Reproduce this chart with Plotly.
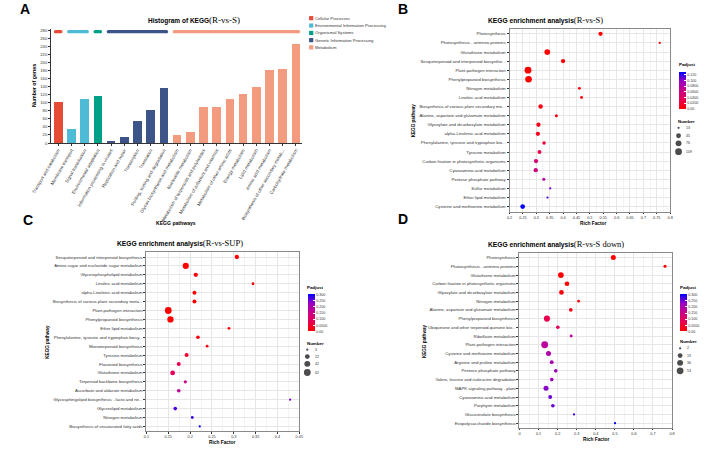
import numpy as np
import plotly.graph_objects as go

W, H = 708, 450
FONT = "Liberation Sans, Arial, sans-serif"
SERIF = "Liberation Serif, Times New Roman, serif"

# ---------------- Panel A data ----------------
a_pathways = ["Transport and catabolism", "Membrane transport", "Signal transduction",
              "Environmental adaptation", "Information processing in viruses",
              "Replication and repair", "Transcription", "Translation",
              "Folding, sorting and degradation", "Glycan biosynthesis and metabolism",
              "Nucleotide metabolism", "Metabolism of terpenoids and polyketides",
              "Metabolism of cofactors and vitamins", "Metabolism of other amino acids",
              "Energy metabolism", "Lipid metabolism", "Amino acid metabolism",
              "Biosynthesis of other secondary metab...", "Carbohydrate metabolism"]
a_genes = [102, 35, 110, 116, 6, 16, 55, 83, 137, 20, 27, 90, 91, 110, 121, 140, 182, 185, 246]
a_class = (["Cellular Processes"] + ["Environmental Information Processing"] * 2 +
           ["Organismal Systems"] + ["Genetic Information Processing"] * 5 + ["Metabolism"] * 10)
a_class_order = ["Cellular Processes", "Environmental Information Processing",
                 "Organismal Systems", "Genetic Information Processing", "Metabolism"]
a_class_colors = ["#E64B35", "#4DBBD5", "#00A087", "#3C5488", "#F39B7F"]
a_yticks = list(range(0, 281, 20))

# ---------------- Panel B data (R-vs-S) ----------------
b_path = ["Photosynthesis", "Photosynthesis - antenna proteins", "Glutathione metabolism",
          "Sesquiterpenoid and triterpenoid biosynthe...", "Plant-pathogen interaction",
          "Phenylpropanoid biosynthesis", "Nitrogen metabolism", "Linoleic acid metabolism",
          "Biosynthesis of various plant secondary me...",
          "Alanine, aspartate and glutamate metabolism",
          "Glyoxylate and dicarboxylate metabolism", "alpha-Linolenic acid metabolism",
          "Phenylalanine, tyrosine and tryptophan bio...", "Tyrosine metabolism",
          "Carbon fixation in photosynthetic organisms", "Cyanoamino acid metabolism",
          "Pentose phosphate pathway", "Sulfur metabolism", "Ether lipid metabolism",
          "Cysteine and methionine metabolism"]
b_rich = [0.540, 0.761, 0.341, 0.400, 0.269, 0.271, 0.461, 0.469, 0.316, 0.375,
          0.308, 0.306, 0.329, 0.312, 0.299, 0.298, 0.328, 0.352, 0.342, 0.249]
b_num = [33, 13, 70, 33, 109, 100, 15, 15, 35, 16, 33, 33, 20, 27, 33, 33, 16, 13, 13, 42]
b_padj = [0.001, 0.002, 0.0005, 0.003, 0.0001, 0.0002, 0.004, 0.004, 0.006, 0.008,
          0.010, 0.013, 0.023, 0.032, 0.052, 0.058, 0.078, 0.104, 0.114, 0.130]
b_xticks = [0.2, 0.25, 0.3, 0.35, 0.4, 0.45, 0.5, 0.55, 0.6, 0.65, 0.7, 0.75, 0.8]
b_cb_vals = [0, 0.02, 0.04, 0.06, 0.08, 0.10, 0.12]
b_cb_text = ["0.00", "0.0200", "0.0400", "0.0600", "0.0800", "0.100", "0.120"]
b_num_breaks = [13, 45, 76, 109]

# ---------------- Panel C data (R-vs-SUP) ----------------
c_path = ["Sesquiterpenoid and triterpenoid biosynthesis",
          "Amino sugar and nucleotide sugar metabolism", "Glycerophospholipid metabolism",
          "Linoleic acid metabolism", "alpha-Linolenic acid metabolism",
          "Biosynthesis of various plant secondary meta...", "Plant-pathogen interaction",
          "Phenylpropanoid biosynthesis", "Ether lipid metabolism",
          "Phenylalanine, tyrosine and tryptophan biosy...", "Monoterpenoid biosynthesis",
          "Tyrosine metabolism", "Flavonoid biosynthesis", "Glutathione metabolism",
          "Terpenoid backbone biosynthesis", "Ascorbate and aldarate metabolism",
          "Glycosphingolipid biosynthesis - lacto and ne...", "Glycerolipid metabolism",
          "Nitrogen metabolism", "Biosynthesis of unsaturated fatty acids"]
c_rich = [0.307, 0.190, 0.213, 0.344, 0.210, 0.210, 0.150, 0.155, 0.289, 0.218,
          0.239, 0.192, 0.174, 0.160, 0.189, 0.174, 0.429, 0.166, 0.205, 0.222]
c_num = [15, 46, 15, 4, 12, 12, 62, 50, 4, 9, 4, 12, 12, 21, 6, 9, 3, 9, 4, 3]
c_padj = [0.001, 0.0001, 0.003, 0.005, 0.004, 0.004, 0.0001, 0.0002, 0.008, 0.010,
          0.015, 0.045, 0.075, 0.090, 0.150, 0.175, 0.240, 0.265, 0.275, 0.302]
c_xticks = [0.1, 0.15, 0.2, 0.25, 0.3, 0.35, 0.4, 0.45]
cd_cb_vals = [0, 0.05, 0.10, 0.15, 0.20, 0.25, 0.30]
cd_cb_text = ["0.00", "0.0500", "0.100", "0.150", "0.200", "0.250", "0.300"]
c_num_breaks = [3, 22, 42, 62]

# ---------------- Panel D data (R-vs-S down) ----------------
d_path = ["Photosynthesis", "Photosynthesis - antenna proteins", "Glutathione metabolism",
          "Carbon fixation in photosynthetic organisms",
          "Glyoxylate and dicarboxylate metabolism", "Nitrogen metabolism",
          "Alanine, aspartate and glutamate metabolism", "Phenylpropanoid biosynthesis",
          "Ubiquinone and other terpenoid-quinone bio...", "Riboflavin metabolism",
          "Plant-pathogen interaction", "Cysteine and methionine metabolism",
          "Arginine and proline metabolism", "Pentose phosphate pathway",
          "Valine, leucine and isoleucine degradation", "MAPK signaling pathway - plant",
          "Cyanoamino acid metabolism", "Porphyrin metabolism",
          "Glucosinolate biosynthesis", "Exopolysaccharide biosynthesis"]
d_rich = [0.492, 0.763, 0.217, 0.249, 0.220, 0.310, 0.269, 0.144, 0.201, 0.271,
          0.132, 0.152, 0.169, 0.190, 0.169, 0.139, 0.161, 0.175, 0.286, 0.501]
d_num = [21, 4, 33, 17, 17, 3, 7, 40, 7, 3, 53, 21, 9, 7, 7, 21, 9, 7, 2, 2]
d_padj = [0.0001, 0.001, 0.002, 0.004, 0.006, 0.010, 0.015, 0.075, 0.090, 0.165,
          0.175, 0.195, 0.205, 0.217, 0.217, 0.235, 0.247, 0.253, 0.270, 0.302]
d_xticks = [0, 0.1, 0.2, 0.3, 0.4, 0.5, 0.6, 0.7, 0.8]
d_num_breaks = [2, 19, 36, 53]

# ---------------- styling helpers ----------------
LAB_SCALE = [[0, "#FF0000"], [0.25, "#E80050"], [0.5, "#CA0089"],
             [0.75, "#9A00C3"], [1, "#0000FF"]]
R0, R1 = 2.2, 6.8


def size_px(n, nmin, nmax):
    n = np.asarray(n, dtype=float)
    return R0 + (R1 - R0) * np.sqrt(np.clip((n - nmin) / (nmax - nmin), 0, 1))


def fx(x):
    return x / W


def fy(y):
    return 1 - y / H


annotations = []


def add_text(text, x, y, size, color="#000000", xanchor="center", yanchor="middle",
             angle=0, family=FONT):
    annotations.append(dict(text=text, x=fx(x), y=fy(y), xref="paper", yref="paper",
                            xanchor=xanchor, yanchor=yanchor, showarrow=False,
                            textangle=angle, borderpad=0,
                            font=dict(size=size, color=color, family=family)))


fig = go.Figure()

# ---------------- Panel A ----------------
idx = np.arange(len(a_pathways))
for cls, col in zip(a_class_order, a_class_colors):
    sel = [i for i, c in enumerate(a_class) if c == cls]
    fig.add_trace(go.Bar(x=idx[sel], y=[a_genes[i] for i in sel], width=0.65,
                         marker=dict(color=col, line=dict(width=0)),
                         xaxis="x", yaxis="y", showlegend=False))
    fig.add_trace(go.Scatter(x=[min(sel) - 0.2, max(sel) + 0.2], y=[276, 276],
                             mode="lines+markers", line=dict(color=col, width=3.4),
                             marker=dict(color=col, size=3.4), cliponaxis=False,
                             xaxis="x", yaxis="y", showlegend=False))

layout_axes = {}
layout_axes["xaxis"] = dict(domain=[fx(33), fx(293)], range=[-0.55, 18.5], anchor="y",
                            tickmode="array", tickvals=list(idx), ticktext=a_pathways,
                            tickangle=-60, tickfont=dict(size=4.5, color="#333333"),
                            ticks="outside", ticklen=2, tickwidth=0.5, tickcolor="#333333",
                            showline=True, linecolor="#333333", linewidth=0.6,
                            showgrid=False, zeroline=False)
layout_axes["yaxis"] = dict(domain=[fy(143), fy(28)], range=[0, 283], anchor="x",
                            tickmode="array", tickvals=a_yticks,
                            tickfont=dict(size=4.2, color="#333333"),
                            ticks="outside", ticklen=2, tickwidth=0.5, tickcolor="#333333",
                            showline=True, linecolor="#333333", linewidth=0.6,
                            showgrid=False, zeroline=False)

add_text("<b>Histogram of KEGG</b><span style='font-family:Liberation Serif;font-size:9px'>(R-vs-S)</span>",
         181, 19, 6.5)
add_text("<b>Number of genes</b>", 15.7, 85.5, 5.3, angle=-90)
add_text("<b>KEGG pathways</b>", 162, 223, 5.1)

# ---------------- Panels B, C, D ----------------
panels = [
    dict(ax="2", path=b_path, rich=b_rich, num=b_num, padj=b_padj, xticks=b_xticks,
         xrange=[0.2, 0.8], minor=0.025, xdom=(507, 673), ydom=(28, 212),
         cmax=max(b_padj), cbv=b_cb_vals, cbt=b_cb_text, cb=(681.7, 71.7, 108.3, 6.7),
         breaks=b_num_breaks,
         title="<b>KEGG enrichment analysis</b><span style='font-family:Liberation Serif;font-size:8.5px'>(R-vs-S)</span>",
         tpos=(543.7, 18.7), ylab=(407.3, 120), xlab=(594, 223.5),
         padj_lab=(681.5, 64), num_lab=(680, 121.3), num_rows=[127.7, 135.7, 143.3, 151.7],
         num_mx=681.7, num_tx=688.5),
    dict(ax="3", path=c_path, rich=c_rich, num=c_num, padj=c_padj, xticks=c_xticks,
         xrange=[0.1, 0.45], minor=0.025, xdom=(131.7, 289.7), ydom=(252.8, 433.2),
         cmax=max(c_padj), cbv=cd_cb_vals, cbt=cd_cb_text, cb=(298.3, 295.7, 332.3, 7.3),
         breaks=c_num_breaks,
         title="<b>KEGG enrichment analysis</b><span style='font-family:Liberation Serif;font-size:8.5px'>(R-vs-SUP)</span>",
         tpos=(166.7, 244), ylab=(30, 343), xlab=(210, 444.5),
         padj_lab=(296.7, 288.3), num_lab=(296.7, 344.3), num_rows=[351, 358, 365.3, 374],
         num_mx=298, num_tx=305),
    dict(ax="4", path=d_path, rich=d_rich, num=d_num, padj=d_padj, xticks=d_xticks,
         xrange=[0, 0.8], minor=0.05, xdom=(517.3, 675), ydom=(253.5, 429.8),
         cmax=max(d_padj), cbv=cd_cb_vals, cbt=cd_cb_text, cb=(683.3, 295.7, 332.3, 7.3),
         breaks=d_num_breaks,
         title="<b>KEGG enrichment analysis</b><span style='font-family:Liberation Serif;font-size:8.5px'>(R-vs-S down)</span>",
         tpos=(555, 245), ylab=(419, 342), xlab=(597, 441.5),
         padj_lab=(681.7, 288.3), num_lab=(681.7, 343), num_rows=[349.7, 357, 364.3, 372.3],
         num_mx=683.3, num_tx=689.3),
]

legend_x, legend_y, legend_s, legend_c = [], [], [], []

for p in panels:
    a = p["ax"]
    nmin, nmax = min(p["num"]), max(p["num"])
    cbx, cbt, cbb, cbw = p["cb"]
    fig.add_trace(go.Scatter(
        x=p["rich"], y=p["path"], mode="markers", xaxis="x" + a, yaxis="y" + a,
        showlegend=False, cliponaxis=False,
        marker=dict(size=size_px(p["num"], nmin, nmax), color=p["padj"],
                    colorscale=LAB_SCALE, cmin=0, cmax=p["cmax"], opacity=1,
                    line=dict(width=0),
                    colorbar=dict(x=fx(cbx), xanchor="left", y=fy((cbt + cbb) / 2),
                                  yanchor="middle", len=cbb - cbt, lenmode="pixels",
                                  thickness=cbw, thicknessmode="pixels", xpad=0, ypad=0,
                                  outlinewidth=0, tickmode="array", tickvals=p["cbv"],
                                  ticktext=p["cbt"], ticks="inside", ticklen=2,
                                  tickcolor="white", tickwidth=0.5,
                                  tickfont=dict(size=3.6, color="#333333", family=FONT),
                                  title=dict(text=""))),
    ))
    minor_vals = list(np.round(np.arange(p["xrange"][0], p["xrange"][1] + 1e-9, p["minor"]), 4))
    layout_axes["xaxis" + a] = dict(
        domain=[fx(p["xdom"][0]), fx(p["xdom"][1])], range=p["xrange"], anchor="y" + a,
        tickmode="array", tickvals=p["xticks"], ticktext=[f"{v:g}" for v in p["xticks"]],
        tickfont=dict(size=3.8, color="#333333"), ticks="outside", ticklen=1.5,
        tickwidth=0.5, tickcolor="#333333", showline=True, mirror=True,
        linecolor="#8A8A8A", linewidth=1, showgrid=True, gridcolor="#E6E6E6",
        gridwidth=0.6, zeroline=False,
        minor=dict(tickmode="array", tickvals=minor_vals, showgrid=True,
                   gridcolor="#F3F3F3", gridwidth=0.4, ticks=""))
    layout_axes["yaxis" + a] = dict(
        domain=[fy(p["ydom"][1]), fy(p["ydom"][0])], type="category",
        categoryorder="array", categoryarray=p["path"],
        range=[len(p["path"]) - 0.45, -0.55], anchor="x" + a,
        tickfont=dict(size=4.3, color="#333333"), ticks="outside", ticklen=2,
        tickwidth=0.5, tickcolor="#333333", showline=True, mirror=True,
        linecolor="#8A8A8A", linewidth=1, showgrid=True, gridcolor="#E6E6E6",
        gridwidth=0.6, zeroline=False)

    add_text(p["title"], p["tpos"][0], p["tpos"][1], 6.7)
    add_text("<b>KEGG pathway</b>", p["ylab"][0], p["ylab"][1], 4.6, angle=-90)
    add_text("<b>Rich Factor</b>", p["xlab"][0], p["xlab"][1], 4.8)
    add_text("<b>Padjust</b>", p["padj_lab"][0], p["padj_lab"][1], 4.4, xanchor="left")
    add_text("<b>Number</b>", p["num_lab"][0], p["num_lab"][1], 4.4, xanchor="left")
    sizes = size_px(p["breaks"], nmin, nmax)
    for br, yy, s in zip(p["breaks"], p["num_rows"], sizes):
        legend_x.append(p["num_mx"])
        legend_y.append(yy)
        legend_s.append(float(s))
        legend_c.append("#000000")
        add_text(str(br), p["num_tx"], yy, 3.6, color="#333333", xanchor="left")

# Panel A class legend keys
a_leg_rows = [17.3, 24.7, 32.2, 39.4, 46.7]
for cls, col, yy in zip(a_class_order, a_class_colors, a_leg_rows):
    add_text(cls, 305.3, yy, 4.2, color="#333333", xanchor="left")

fig.add_trace(go.Scatter(x=legend_x, y=legend_y, mode="markers", xaxis="x5", yaxis="y5",
                         showlegend=False, cliponaxis=False,
                         marker=dict(size=legend_s, color=legend_c, line=dict(width=0))))
fig.add_trace(go.Scatter(x=[302] * len(a_class_order), y=a_leg_rows, mode="markers",
                         xaxis="x5", yaxis="y5", showlegend=False, cliponaxis=False,
                         marker=dict(symbol="square", size=4.2, color=a_class_colors,
                                     line=dict(width=0))))
layout_axes["xaxis5"] = dict(domain=[0, 1], range=[0, W], visible=False, anchor="y5",
                             fixedrange=True)
layout_axes["yaxis5"] = dict(domain=[0, 1], range=[H, 0], visible=False, anchor="x5",
                             fixedrange=True)

# panel letters
for letter, (lx, ly) in zip("ABCD", [(6, 8), (397, 8), (9, 220), (397, 219)]):
    add_text("<b>%s</b>" % letter, lx, ly, 14)

fig.update_layout(width=W, height=H, margin=dict(l=0, r=0, t=0, b=0),
                  paper_bgcolor="white", plot_bgcolor="rgba(0,0,0,0)",
                  font=dict(family=FONT, color="#000000"),
                  showlegend=False, annotations=annotations, bargap=0, **layout_axes)

fig.write_html("out.html")
